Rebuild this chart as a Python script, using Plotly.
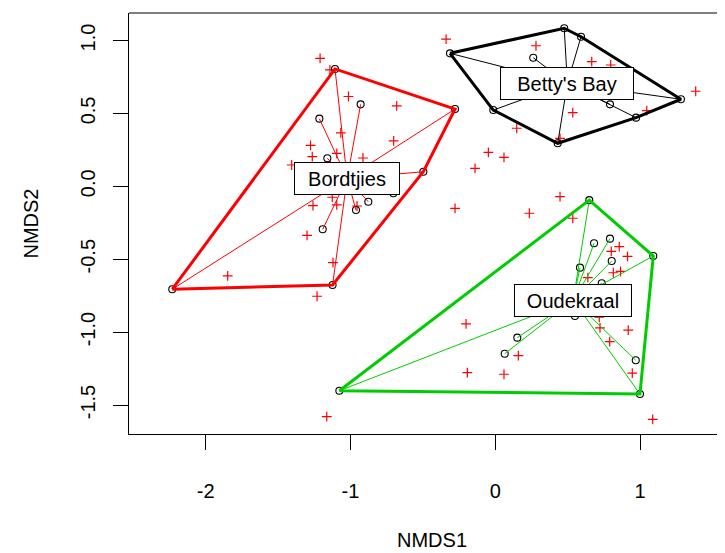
import plotly.graph_objects as go
import numpy as np

# ---------------- data ----------------
groups = ["Bordtjies", "Betty's Bay", "Oudekraal"]
group_colors = ["#FF0000", "#000000", "#00CD00"]

bordtjies_x = [-1.107, -0.278, -0.497, -1.124, -2.231, -0.930, -1.215, -1.160, -0.877, -0.962, -1.192, -0.704]
bordtjies_y = [0.805, 0.530, 0.100, -0.677, -0.706, 0.562, 0.464, 0.192, -0.106, -0.163, -0.295, -0.048]

bettys_x = [0.476, -0.313, 0.592, 0.262, 1.282, -0.014, 0.792, 0.972, 0.431]
bettys_y = [1.084, 0.912, 1.026, 0.882, 0.597, 0.523, 0.562, 0.471, 0.295]

oudekraal_x = [0.649, 1.091, 0.999, -1.077, 0.682, 0.792, 0.804, 0.585, 0.550, 0.152, 0.065, 0.970, 0.735]
oudekraal_y = [-0.095, -0.478, -1.425, -1.402, -0.391, -0.359, -0.512, -0.558, -0.890, -1.038, -1.148, -1.193, -0.665]

species_x = [-0.340, -1.210, -1.142, -1.014, -0.681, -1.067, -0.702, -1.276, -1.264, -1.095,
             -1.406, -0.140, -0.914, -1.259, -1.126, -1.095, -0.955, -0.278, -1.300, -1.121,
             -1.848, -1.231, 0.281, 0.666, 0.797, 1.384, 0.535, 1.046, 0.148, 0.447,
             -0.048, 0.060, 0.447, 0.235, 0.535, 0.801, 0.856, 0.913, 0.815, 0.865,
             0.639, -0.202, 0.723, 0.918, 0.790, 0.159, -0.193, 0.060, 0.946, -1.164,
             1.087, 0.718]
species_y = [1.010, 0.878, 0.798, 0.616, 0.552, 0.366, 0.311, 0.280, 0.203, 0.226,
             0.146, 0.123, 0.194, -0.132, -0.075, -0.128, -0.135, -0.151, -0.336, -0.524,
             -0.615, -0.754, 0.964, 0.855, 0.832, 0.652, 0.505, 0.519, 0.398, 0.329,
             0.233, 0.199, -0.071, -0.185, -0.219, -0.446, -0.414, -0.480, -0.593, -0.583,
             -0.626, -0.944, -0.971, -0.986, -1.066, -1.162, -1.278, -1.289, -1.281, -1.580,
             -1.598, -0.898]

x_ticks = [-2, -1, 0, 1]
y_ticks = [-1.5, -1.0, -0.5, 0.0, 0.5, 1.0]
y_tick_text = ["-1.5", "-1.0", "-0.5", "0.0", "0.5", "1.0"]

group_x = [bordtjies_x, bettys_x, oudekraal_x]
group_y = [bordtjies_y, bettys_y, oudekraal_y]

# ---------------- helpers ----------------
def convex_hull(xs, ys):
    pts = sorted(set(zip(xs, ys)))
    if len(pts) <= 2:
        return pts

    def cross(o, a, b):
        return (a[0] - o[0]) * (b[1] - o[1]) - (a[1] - o[1]) * (b[0] - o[0])

    lower = []
    for p in pts:
        while len(lower) >= 2 and cross(lower[-2], lower[-1], p) <= 0:
            lower.pop()
        lower.append(p)
    upper = []
    for p in reversed(pts):
        while len(upper) >= 2 and cross(upper[-2], upper[-1], p) <= 0:
            upper.pop()
        upper.append(p)
    return lower[:-1] + upper[:-1]


FONT = "Liberation Sans, Arial, sans-serif"
fig = go.Figure()

# species scores
fig.add_trace(go.Scatter(
    x=species_x, y=species_y, mode="markers",
    marker=dict(symbol="cross-thin", size=7, color="#FF0000",
                line=dict(color="#FF0000", width=1.2)),
    hoverinfo="skip", showlegend=False))

# site scores
all_x = [v for g in group_x for v in g]
all_y = [v for g in group_y for v in g]
fig.add_trace(go.Scatter(
    x=all_x, y=all_y, mode="markers",
    marker=dict(symbol="circle-open", size=7, color="#000000",
                line=dict(color="#000000", width=1.1)),
    hoverinfo="skip", showlegend=False))

annotations = []
label_widths = {"Bordtjies": 104, "Betty's Bay": 132, "Oudekraal": 116}

for name, col, gx, gy in zip(groups, group_colors, group_x, group_y):
    cx = float(np.mean(gx))
    cy = float(np.mean(gy))
    hull = convex_hull(gx, gy)
    hx = [p[0] for p in hull] + [hull[0][0]]
    hy = [p[1] for p in hull] + [hull[0][1]]
    fig.add_trace(go.Scatter(x=hx, y=hy, mode="lines",
                             line=dict(color=col, width=3),
                             hoverinfo="skip", showlegend=False))
    sx, sy = [], []
    for px, py in zip(gx, gy):
        sx += [cx, px, None]
        sy += [cy, py, None]
    fig.add_trace(go.Scatter(x=sx, y=sy, mode="lines",
                             line=dict(color=col, width=1),
                             hoverinfo="skip", showlegend=False))
    annotations.append(dict(
        x=cx, y=cy, xref="x", yref="y", text=name, showarrow=False,
        font=dict(family=FONT, size=20, color="#000000"),
        bgcolor="#FFFFFF", bordercolor="#000000", borderwidth=1,
        borderpad=0, width=label_widths[name], height=31,
        xanchor="center", yanchor="middle"))

# axis titles
annotations.append(dict(x=0.508, y=-0.252, xref="paper", yref="paper",
                        text="NMDS1", showarrow=False,
                        font=dict(family=FONT, size=20, color="#000000"),
                        xanchor="center", yanchor="middle"))
annotations.append(dict(x=-0.166, y=0.50, xref="paper", yref="paper",
                        text="NMDS2", showarrow=False, textangle=-90,
                        font=dict(family=FONT, size=20, color="#000000"),
                        xanchor="center", yanchor="middle"))

# the page body adds an 8px offset, so the figure is 8px smaller on each axis
fig.update_layout(
    width=717, height=545,
    margin=dict(l=121, r=0, t=5, b=119, autoexpand=False),
    paper_bgcolor="#FFFFFF", plot_bgcolor="#FFFFFF",
    showlegend=False,
    annotations=annotations,
    shapes=[dict(type="line", xref="paper", yref="paper", x0=0, x1=1, y0=1, y1=1,
                 line=dict(color="#000000", width=1))],
    xaxis=dict(range=[-2.5297, 1.5863], showgrid=False, zeroline=False,
               showline=True, linecolor="#000000", linewidth=1,
               ticks="outside", ticklen=15, tickwidth=1, tickcolor="#000000",
               tickvals=x_ticks, ticktext=[str(v) for v in x_ticks],
               tickfont=dict(family=FONT, size=20, color="#000000"),
               ticklabelstandoff=24, automargin=False, fixedrange=True),
    yaxis=dict(range=[-1.6989, 1.1886], showgrid=False, zeroline=False,
               showline=True, linecolor="#000000", linewidth=1,
               ticks="outside", ticklen=15, tickwidth=1, tickcolor="#000000",
               tickvals=y_ticks, ticktext=y_tick_text, tickangle=-90,
               tickfont=dict(family=FONT, size=20, color="#000000"),
               ticklabelstandoff=10, automargin=False, fixedrange=True),
)

fig.write_html("out.html")
